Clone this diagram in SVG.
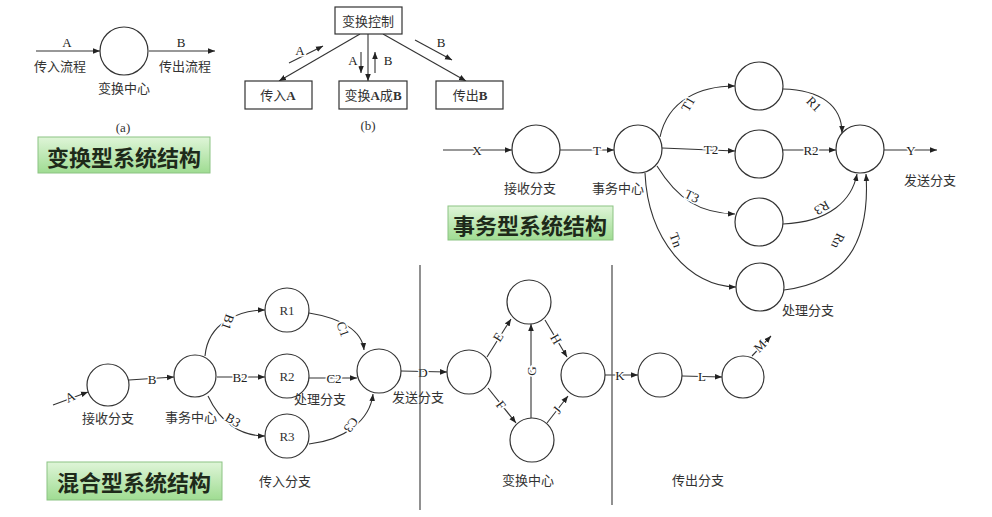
<svg xmlns="http://www.w3.org/2000/svg" width="992" height="517" viewBox="0 0 992 517">
<defs>
<marker id="ar" viewBox="0 0 10 10" refX="10" refY="5" markerWidth="7" markerHeight="7" markerUnits="userSpaceOnUse" orient="auto"><path d="M0,1 L10,5 L0,9 z" fill="#222"/></marker>
<linearGradient id="gg" x1="0" y1="0" x2="0" y2="1"><stop offset="0" stop-color="#dff5d8"/><stop offset="1" stop-color="#9fdc92"/></linearGradient>
<style>
.n{fill:#fff;stroke:#333;stroke-width:1.2}
.b{fill:#fff;stroke:#333;stroke-width:1.2}
.e{fill:none;stroke:#333;stroke-width:1.1}
.a{marker-end:url(#ar)}
.t{font-family:"Liberation Serif","Noto Sans CJK SC",serif;font-size:13px;fill:#333;text-anchor:middle;dominant-baseline:central}
.l{font-family:"Liberation Serif","Noto Sans CJK SC",serif;font-size:13px;fill:#222;text-anchor:middle;dominant-baseline:central;stroke:#fff;stroke-width:3px;paint-order:stroke}
.g{fill:url(#gg);stroke:#8cc383;stroke-width:1}
.gt{font-family:"Noto Sans CJK SC",sans-serif;font-weight:bold;font-size:22px;fill:#1e2a1a;text-anchor:middle;dominant-baseline:central}
.sep{stroke:#555;stroke-width:1.3}
</style>
</defs>
<rect width="992" height="517" fill="#fff"/>

<g id="connectors">
<line class="e a" x1="36" y1="51" x2="100" y2="51"/>
<line class="e a" x1="149" y1="51" x2="215" y2="51"/>
<line class="e a" x1="360" y1="34" x2="279" y2="81"/>
<line class="e a" x1="368" y1="34" x2="368" y2="81"/>
<line class="e a" x1="383" y1="34" x2="466" y2="81"/>
<line class="e a" x1="289" y1="63" x2="323" y2="46"/>
<line class="e a" x1="361" y1="52" x2="361" y2="73"/>
<line class="e a" x1="375" y1="73" x2="375" y2="52"/>
<line class="e a" x1="415" y1="40" x2="452" y2="60"/>
<line class="e a" x1="443" y1="150" x2="512" y2="150"/>
<line class="e a" x1="560" y1="150" x2="614" y2="150"/>
<path class="e a" d="M660,137 C668,100 700,86 735,86"/>
<path class="e a" d="M662,148 L735,151"/>
<path class="e a" d="M657,166 C678,200 700,213 735,214"/>
<path class="e a" d="M645,173 C648,240 690,287 736,287"/>
<path class="e a" d="M783,89 C820,90 842,105 842,133"/>
<line class="e a" x1="783" y1="150" x2="836" y2="150"/>
<path class="e a" d="M783,224 C830,222 852,200 857,174"/>
<path class="e a" d="M784,290 C850,282 870,235 866,174"/>
<line class="e a" x1="884" y1="150" x2="937" y2="150"/>
<line class="e a" x1="53" y1="405" x2="88" y2="392"/>
<line class="e a" x1="129" y1="380" x2="174" y2="377"/>
<path class="e a" d="M205,356 C208,322 240,310 265,310"/>
<line class="e a" x1="217" y1="377" x2="265" y2="377"/>
<path class="e a" d="M208,396 C220,422 240,436 265,436"/>
<path class="e a" d="M309,313 C340,318 362,330 364,350"/>
<line class="e a" x1="309" y1="378" x2="357" y2="378"/>
<path class="e a" d="M309,444 C345,440 370,420 373,394"/>
<line class="e a" x1="401" y1="371" x2="447" y2="372"/>
<line class="e a" x1="487" y1="357" x2="511" y2="319"/>
<line class="e a" x1="488" y1="388" x2="516" y2="423"/>
<line class="e a" x1="531" y1="418" x2="531" y2="324"/>
<line class="e a" x1="545" y1="320" x2="567" y2="357"/>
<line class="e a" x1="547" y1="423" x2="568" y2="396"/>
<line class="e a" x1="605" y1="375" x2="638" y2="375"/>
<line class="e a" x1="682" y1="376" x2="722" y2="377"/>
<line class="e a" x1="752" y1="356" x2="771" y2="336"/>
</g>

<g id="edge-labels">
<text class="l" x="67" y="42">A</text>
<text class="l" x="181" y="42">B</text>
<text class="l" x="300" y="50">A</text>
<text class="l" x="353" y="60">A</text>
<text class="l" x="388" y="60">B</text>
<text class="l" x="441" y="42">B</text>
<text class="l" x="477" y="150">X</text>
<text class="l" x="597" y="150">T</text>
<text class="l" x="688" y="104" transform="rotate(-60 688 104)">T1</text>
<text class="l" x="711" y="149">T2</text>
<text class="l" x="692" y="196" transform="rotate(25 692 196)">T3</text>
<text class="l" x="676" y="240" transform="rotate(70 676 240)">Tn</text>
<text class="l" x="814" y="104" transform="rotate(45 814 104)">R1</text>
<text class="l" x="811" y="150">R2</text>
<text class="l" x="822" y="208" transform="rotate(150 822 208)">R3</text>
<text class="l" x="838" y="241" transform="rotate(115 838 241)">Rn</text>
<text class="l" x="911" y="150">Y</text>
<text class="l" x="70" y="397" transform="rotate(-25 70 397)">A</text>
<text class="l" x="152" y="379">B</text>
<text class="l" x="228" y="322" transform="rotate(110 228 322)">B1</text>
<text class="l" x="240" y="377">B2</text>
<text class="l" x="233" y="420" transform="rotate(30 233 420)">B3</text>
<text class="l" x="343" y="329" transform="rotate(70 343 329)">C1</text>
<text class="l" x="334" y="378">C2</text>
<text class="l" x="351" y="425" transform="rotate(125 351 425)">C3</text>
<text class="l" x="423" y="372">D</text>
<text class="l" x="498" y="337" transform="rotate(-58 498 337)">E</text>
<text class="l" x="501" y="405" transform="rotate(52 501 405)">F</text>
<text class="l" x="531" y="371" transform="rotate(-90 531 371)">G</text>
<text class="l" x="556" y="339" transform="rotate(60 556 339)">H</text>
<text class="l" x="557" y="410" transform="rotate(-52 557 410)">J</text>
<text class="l" x="620" y="375">K</text>
<text class="l" x="702" y="376">L</text>
<text class="l" x="760" y="346" transform="rotate(-45 760 346)">M</text>
</g>

<g id="sep"><line class="sep" x1="420" y1="265" x2="420" y2="510"/><line class="sep" x1="612" y1="265" x2="612" y2="505"/></g>

<g id="a-center"><circle class="n" cx="124" cy="51" r="24"/><text class="t" x="124" y="88">变换中心</text></g>
<text class="t" x="60" y="66">传入流程</text>
<text class="t" x="185" y="66">传出流程</text>
<text class="t" x="123" y="127">(a)</text>
<g id="title1"><rect class="g" x="38" y="137" width="172" height="36"/><text class="gt" x="124" y="156">变换型系统结构</text></g>

<g id="b-ctrl"><rect class="b" x="335" y="7" width="67" height="27"/><text class="t" x="368" y="21">变换控制</text></g>
<g id="b-in"><rect class="b" x="245" y="81" width="67" height="28"/><text class="t" x="278" y="95">传入<tspan font-weight="bold">A</tspan></text></g>
<g id="b-tr"><rect class="b" x="339" y="81" width="68" height="28"/><text class="t" x="373" y="95">变换<tspan font-weight="bold">A</tspan>成<tspan font-weight="bold">B</tspan></text></g>
<g id="b-out"><rect class="b" x="436" y="81" width="67" height="28"/><text class="t" x="470" y="95">传出<tspan font-weight="bold">B</tspan></text></g>
<text class="t" x="368" y="125">(b)</text>

<g id="t-recv"><circle class="n" cx="536" cy="149" r="24"/><text class="t" x="530" y="188">接收分支</text></g>
<g id="t-center"><circle class="n" cx="638" cy="149" r="24"/><text class="t" x="618" y="188">事务中心</text></g>
<g id="t-p1"><circle class="n" cx="759" cy="86" r="24"/></g>
<g id="t-p2"><circle class="n" cx="759" cy="154" r="24"/></g>
<g id="t-p3"><circle class="n" cx="759" cy="222" r="24"/></g>
<g id="t-pn"><circle class="n" cx="760" cy="287" r="24"/><text class="t" x="808" y="310">处理分支</text></g>
<g id="t-send"><circle class="n" cx="860" cy="149" r="24"/><text class="t" x="930" y="180">发送分支</text></g>
<g id="title2"><rect class="g" x="448" y="206" width="165" height="34"/><text class="gt" x="530" y="224">事务型系统结构</text></g>

<g id="m-recv"><circle class="n" cx="108" cy="385" r="21"/><text class="t" x="108" y="418">接收分支</text></g>
<g id="m-center"><circle class="n" cx="195" cy="376" r="21"/><text class="t" x="191" y="417">事务中心</text></g>
<g id="m-r1"><circle class="n" cx="287" cy="310" r="22"/><text class="t" x="287" y="310">R1</text></g>
<g id="m-r2"><circle class="n" cx="287" cy="376" r="22"/><text class="t" x="287" y="376">R2</text></g>
<g id="m-r3"><circle class="n" cx="287" cy="436" r="22"/><text class="t" x="287" y="436">R3</text></g>
<text class="t" x="320" y="399">处理分支</text>
<text class="t" x="285" y="481">传入分支</text>
<g id="m-send"><circle class="n" cx="379" cy="371" r="22"/><text class="t" x="418" y="397">发送分支</text></g>
<g id="x-left"><circle class="n" cx="469" cy="372" r="22"/></g>
<g id="x-top"><circle class="n" cx="529" cy="302" r="22"/></g>
<g id="x-bottom"><circle class="n" cx="532" cy="440" r="22"/></g>
<g id="x-right"><circle class="n" cx="583" cy="375" r="22"/></g>
<text class="t" x="528" y="480">变换中心</text>
<g id="o-1"><circle class="n" cx="660" cy="375" r="22"/></g>
<g id="o-2"><circle class="n" cx="743" cy="377" r="21"/></g>
<text class="t" x="698" y="480">传出分支</text>
<g id="title3"><rect class="g" x="47" y="462" width="175" height="38"/><text class="gt" x="134" y="481">混合型系统结构</text></g>
</svg>
